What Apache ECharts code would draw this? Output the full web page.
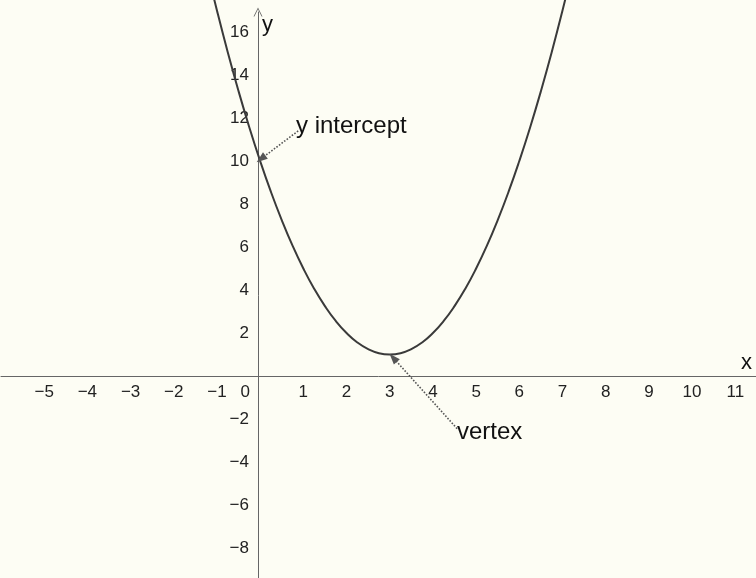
<!DOCTYPE html>
<html>
<head>
<meta charset="utf-8">
<script src="https://cdn.jsdelivr.net/npm/echarts@6/dist/echarts.min.js"></script>
<style>
  html, body { margin: 0; padding: 0; background: #fdfdf4; }
  #chart { width: 756px; height: 578px; }
</style>
</head>
<body>
<div id="chart"></div>
<script>
const curveX = [-1.25, -1, -0.75, -0.5, -0.25, 0, 0.25, 0.5, 0.75, 1, 1.25, 1.5, 1.75, 2, 2.25, 2.5, 2.75, 3,
  3.25, 3.5, 3.75, 4, 4.25, 4.5, 4.75, 5, 5.25, 5.5, 5.75, 6, 6.25, 6.5, 6.75, 7, 7.25];
const curveY = [19.06, 17, 15.06, 13.25, 11.56, 10, 8.56, 7.25, 6.06, 5, 4.06, 3.25, 2.56, 2, 1.56, 1.25, 1.06, 1,
  1.06, 1.25, 1.56, 2, 2.56, 3.25, 4.06, 5, 6.06, 7.25, 8.56, 10, 11.56, 13.25, 15.06, 17, 19.06];

// dotted pointer arrows: [from, to]
const interceptArrow = [[0.88, 11.4], [0.02, 10.1]];
const vertexArrow = [[4.56, -2.45], [3.08, 0.85]];

const interceptText = 'y intercept';
const vertexText = 'vertex';

const font = '"Liberation Sans", Arial, sans-serif';
const minus = (v) => String(v).replace('-', '\u2212');

const chart = echarts.init(document.getElementById('chart'));

// grid is bigger than the window so that the axes cross at the right place;
// the axes are moved onto the zero lines with offset
const option = {
  backgroundColor: '#fdfdf4',
  animation: false,
  grid: { left: 1, right: 0, top: 12, bottom: -13, outerBoundsMode: 'none', containLabel: false },
  xAxis: {
    type: 'value',
    position: 'bottom',
    offset: -215,
    min: -6,
    max: 11.48,
    interval: 1,
    axisLine: { onZero: false, lineStyle: { color: '#666', width: 1 } },
    axisTick: { show: false },
    splitLine: { show: false },
    axisLabel: {
      margin: 8,
      fontSize: 17,
      fontFamily: font,
      color: '#222',
      showMaxLabel: false,
      formatter: function (v) {
        if (v < -5 || v > 11) return '';
        if (v === 0) return '{z|0}';
        return minus(v);
      },
      rich: { z: { fontSize: 17, fontFamily: font, color: '#222', padding: [0, 30, 0, 0] } }
    }
  },
  yAxis: {
    type: 'value',
    position: 'left',
    offset: -257,
    min: -10,
    max: 16.93,
    interval: 2,
    axisLine: {
      onZero: false,
      symbol: ['none', 'path://M0,10L5,0L10,10L9,10L5,2L1,10Z'],
      symbolSize: [10, 9],
      lineStyle: { color: '#666', width: 1 }
    },
    axisTick: { show: false },
    splitLine: { show: false },
    axisLabel: {
      margin: 9,
      fontSize: 17,
      fontFamily: font,
      color: '#222',
      showMaxLabel: false,
      formatter: function (v) {
        if (v === 0 || v < -8 || v > 16) return '';
        return minus(v);
      }
    }
  },
  series: [
    {
      type: 'line',
      data: curveX.map((x, i) => [x, curveY[i]]),
      smooth: true,
      clip: false,
      showSymbol: false,
      lineStyle: { color: '#3a3a3a', width: 2 },
      markLine: {
        silent: true,
        symbol: ['none', 'triangle'],
        symbolSize: [8, 11],
        label: { show: false },
        lineStyle: { color: '#555', width: 1.6, type: 'dotted' },
        data: [
          [{ coord: interceptArrow[0] }, { coord: interceptArrow[1] }],
          [{ coord: vertexArrow[0] }, { coord: vertexArrow[1] }]
        ]
      }
    }
  ],
  graphic: [
    { type: 'text', left: 296, top: 114, style: { text: interceptText, font: '24px ' + font, fill: '#111' } },
    { type: 'text', left: 457, top: 420, style: { text: vertexText, font: '24px ' + font, fill: '#111' } },
    { type: 'text', left: 741, top: 352, style: { text: 'x', font: '22px ' + font, fill: '#111' } },
    { type: 'text', left: 262, top: 14, style: { text: 'y', font: '22px ' + font, fill: '#111' } }
  ]
};

chart.setOption(option);
</script>
</body>
</html>
